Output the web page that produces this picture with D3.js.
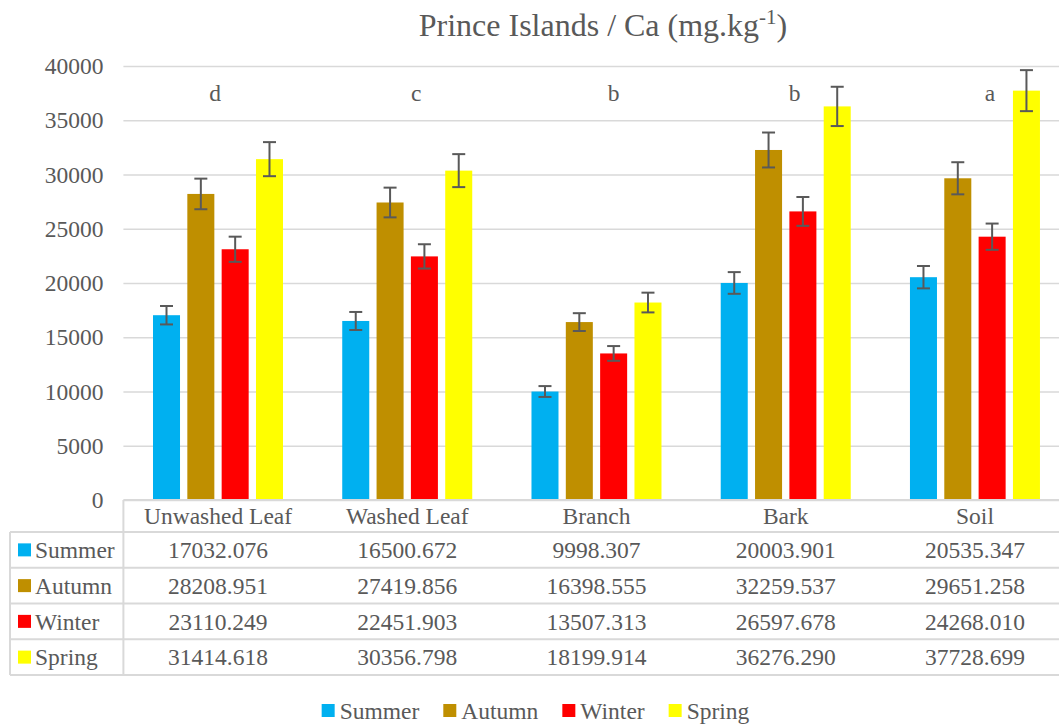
<!DOCTYPE html>
<html>
<head>
<meta charset="utf-8">
<script src="https://cdn.jsdelivr.net/npm/d3@7"></script>
<style>
  body { margin: 0; background: #fff; }
  svg { display: block; font-family: "Liberation Serif", "Times New Roman", serif; }
  text { fill: #595959; font-family: "Liberation Serif", "Times New Roman", serif; }
</style>
</head>
<body>
<div id="chart"></div>
<script>
var categories = ["Unwashed Leaf", "Washed Leaf", "Branch", "Bark", "Soil"];
var seasons = ["Summer", "Autumn", "Winter", "Spring"];
var summer = [17032.076, 16500.672, 9998.307, 20003.901, 20535.347];
var autumn = [28208.951, 27419.856, 16398.555, 32259.537, 29651.258];
var winter = [23110.249, 22451.903, 13507.313, 26597.678, 24268.010];
var spring = [31414.618, 30356.798, 18199.914, 36276.290, 37728.699];

// half-length of each whisker
var summerErr = [850, 830, 500, 1000, 1030];
var autumnErr = [1410, 1370, 820, 1610, 1480];
var winterErr = [1160, 1120, 680, 1330, 1210];
var springErr = [1570, 1520, 910, 1810, 1890];

var groupLetters = ["d", "c", "b", "b", "a"];
var yTicks = [0, 5000, 10000, 15000, 20000, 25000, 30000, 35000, 40000];

var colors = ["#00B0F0", "#BF8F00", "#FF0000", "#FFFF00"];

var values = [summer, autumn, winter, spring];
var errors = [summerErr, autumnErr, winterErr, springErr];

// layout
var W = 1059, H = 724;
var plotLeft = 123.4, plotRight = 1069.6;
var plotTop = 66, plotBottom = 500;
var fontSize = 23.5;
var headerBottom = 532, rowH = 35.75, tableLeft = 10;
var letterNudge = [-3, 9, 17, 9, 15];

var svg = d3.select("#chart").append("svg")
    .attr("width", W)
    .attr("height", H);

var x0 = d3.scaleBand()
    .domain(categories)
    .range([plotLeft, plotRight]);

var x1 = d3.scaleBand()
    .domain(seasons)
    .range([29.6, 159.6])
    .paddingInner(0.213);

var y = d3.scaleLinear()
    .domain([0, 40000])
    .range([plotBottom, plotTop]);

// gridlines
var grid = svg.append("g")
    .attr("transform", "translate(" + plotLeft + ",0)")
    .call(d3.axisLeft(y).tickValues(yTicks).tickSize(-(plotRight - plotLeft)).tickFormat(""));
grid.select(".domain").remove();
grid.selectAll("line").attr("stroke", "#d9d9d9").attr("stroke-width", 1.5);

// y labels
var yAxis = svg.append("g")
    .attr("transform", "translate(" + plotLeft + ",0)")
    .call(d3.axisLeft(y).tickValues(yTicks).tickSize(0).tickPadding(20).tickFormat(d3.format("d")));
yAxis.select(".domain").remove();
yAxis.attr("font-family", null);
yAxis.selectAll("text")
    .attr("font-size", fontSize)
    .style("fill", "#595959");

// bars
var groups = svg.selectAll(".group")
    .data(categories)
  .enter().append("g")
    .attr("class", "group")
    .attr("transform", function(d) { return "translate(" + x0(d) + ",0)"; });

groups.each(function(cat, ci) {
  var g = d3.select(this);
  seasons.forEach(function(s, si) {
    var v = values[si][ci], e = errors[si][ci];
    g.append("rect")
      .attr("x", x1(s))
      .attr("y", y(v))
      .attr("width", x1.bandwidth())
      .attr("height", y(0) - y(v))
      .attr("fill", colors[si]);
    var cx = x1(s) + x1.bandwidth() / 2;
    g.append("line")
      .attr("x1", cx).attr("x2", cx)
      .attr("y1", y(v + e)).attr("y2", y(v - e))
      .attr("stroke", "#595959").attr("stroke-width", 2);
    [v + e, v - e].forEach(function(t) {
      g.append("line")
        .attr("x1", cx - 6.5).attr("x2", cx + 6.5)
        .attr("y1", y(t)).attr("y2", y(t))
        .attr("stroke", "#595959").attr("stroke-width", 2);
    });
  });
});

// significance letters
svg.selectAll(".letter")
    .data(groupLetters)
  .enter().append("text")
    .attr("class", "letter")
    .attr("x", function(d, i) { return x0(categories[i]) + x0.bandwidth() / 2 + letterNudge[i]; })
    .attr("y", 101)
    .attr("text-anchor", "middle")
    .attr("font-size", fontSize)
    .text(function(d) { return d; });

// title
var title = svg.append("text")
    .attr("x", 603)
    .attr("y", 36)
    .attr("text-anchor", "middle")
    .attr("font-size", 32);
title.append("tspan").text("Prince Islands / Ca (mg.kg");
title.append("tspan").attr("font-size", 21).attr("baseline-shift", "super").text("-1");
title.append("tspan").text(")");

// data table
var table = svg.append("g");
var lineColor = "#d9d9d9";
table.append("line")
    .attr("x1", plotLeft).attr("x2", W + 20)
    .attr("y1", plotBottom).attr("y2", plotBottom)
    .attr("stroke", lineColor).attr("stroke-width", 2);
for (var r = 0; r <= seasons.length; r++) {
  table.append("line")
    .attr("x1", tableLeft).attr("x2", W + 20)
    .attr("y1", headerBottom + r * rowH).attr("y2", headerBottom + r * rowH)
    .attr("stroke", lineColor).attr("stroke-width", 2);
}
var tableBottom = headerBottom + seasons.length * rowH;
table.append("line")
    .attr("x1", plotLeft).attr("x2", plotLeft)
    .attr("y1", plotBottom).attr("y2", tableBottom)
    .attr("stroke", lineColor).attr("stroke-width", 2);
table.append("line")
    .attr("x1", tableLeft).attr("x2", tableLeft)
    .attr("y1", headerBottom).attr("y2", tableBottom)
    .attr("stroke", lineColor).attr("stroke-width", 2);

// header
table.selectAll(".cat")
    .data(categories)
  .enter().append("text")
    .attr("class", "cat")
    .attr("x", function(d) { return x0(d) + x0.bandwidth() / 2; })
    .attr("y", (plotBottom + headerBottom) / 2)
    .attr("dy", "0.35em")
    .attr("text-anchor", "middle")
    .attr("font-size", fontSize)
    .text(function(d) { return d; });

seasons.forEach(function(s, si) {
  var cy = headerBottom + si * rowH + rowH / 2;
  table.append("rect")
    .attr("x", 18).attr("y", cy - 6.5)
    .attr("width", 13).attr("height", 13)
    .attr("fill", colors[si]);
  table.append("text")
    .attr("x", 35).attr("y", cy)
    .attr("dy", "0.35em")
    .attr("font-size", fontSize)
    .text(s);
  table.selectAll(".v" + si)
      .data(values[si])
    .enter().append("text")
      .attr("x", function(d, i) { return x0(categories[i]) + x0.bandwidth() / 2; })
      .attr("y", cy)
      .attr("dy", "0.35em")
      .attr("text-anchor", "middle")
      .attr("font-size", fontSize)
      .text(function(d) { return d.toFixed(3); });
});

// legend
var legend = svg.append("g");
var items = legend.selectAll(".item")
    .data(seasons)
  .enter().append("g")
    .attr("class", "item");
items.append("rect")
    .attr("y", 704).attr("width", 13).attr("height", 13)
    .attr("fill", function(d, i) { return colors[i]; });
items.append("text")
    .attr("x", 18).attr("y", 710.5)
    .attr("dy", "0.35em")
    .attr("font-size", fontSize)
    .text(function(d) { return d; });
var widths = [];
items.each(function() { widths.push(18 + d3.select(this).select("text").node().getComputedTextLength()); });
var total = d3.sum(widths) + 24 * (widths.length - 1);
var lx = 535.5 - total / 2;
items.attr("transform", function(d, i) {
  var t = "translate(" + lx + ",0)";
  lx += widths[i] + 24;
  return t;
});
</script>
</body>
</html>
